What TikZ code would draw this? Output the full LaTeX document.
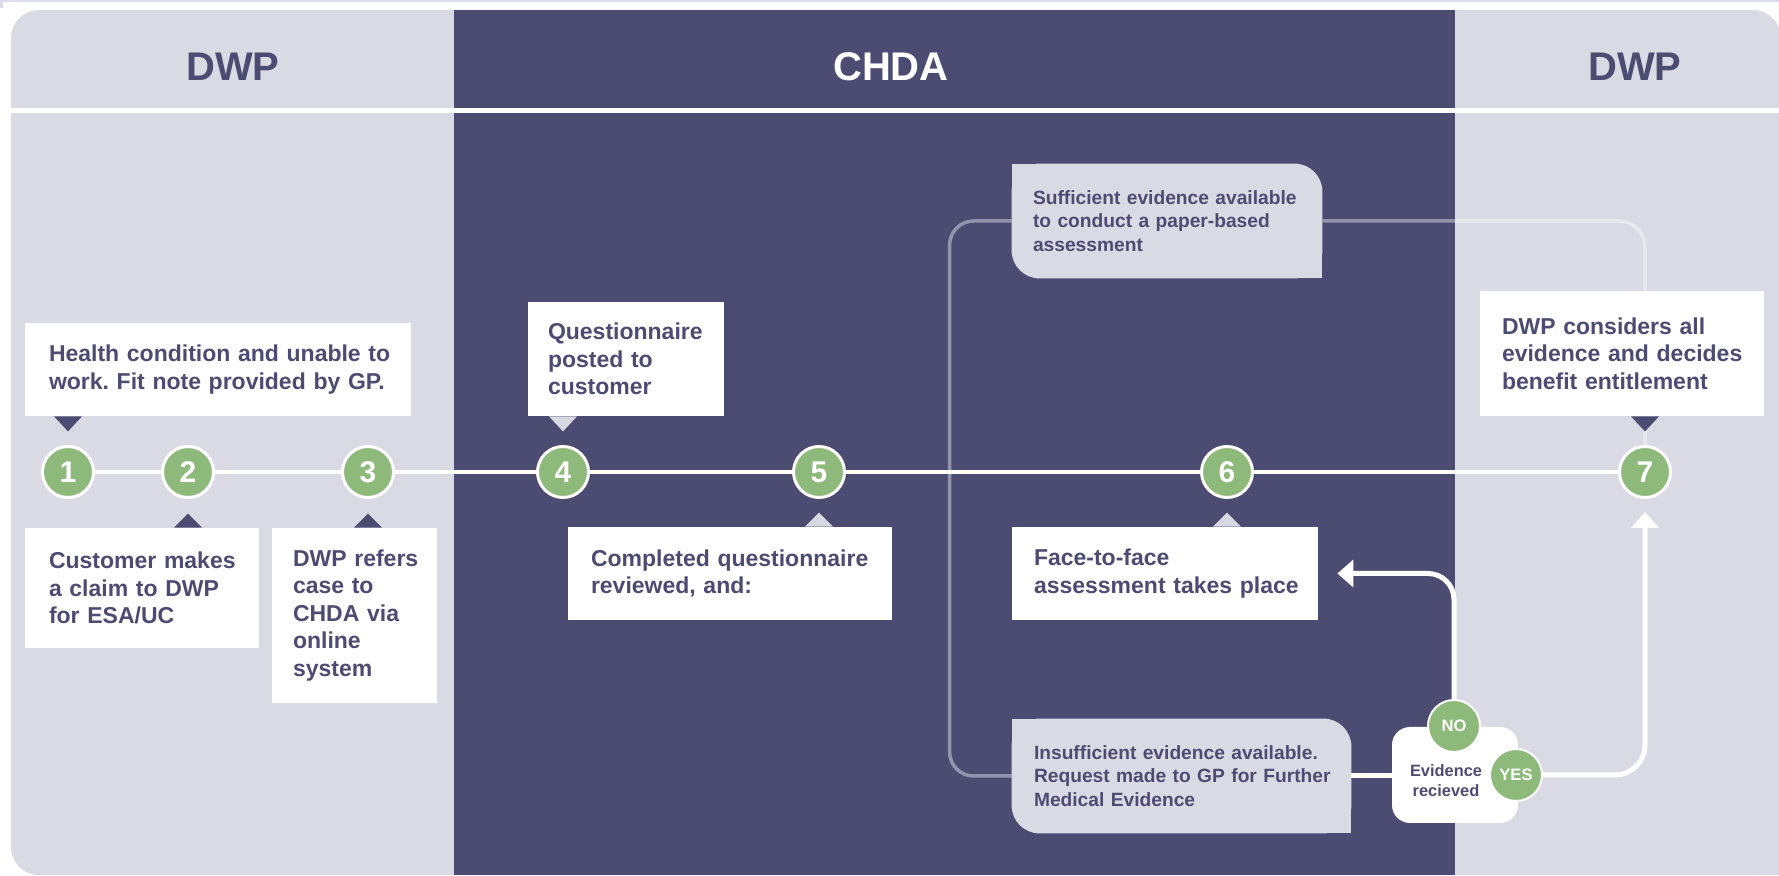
\documentclass[tikz,border=0pt]{standalone}
\usepackage{fontspec}
\setmainfont{Liberation Sans}
\usetikzlibrary{arrows.meta,calc}
\pgfdeclarelayer{lanes}
\pgfdeclarelayer{links}
\pgfsetlayers{lanes,links,main}
\definecolor{lane}{HTML}{DADAE4}
\definecolor{navy}{HTML}{4C4C73}
\definecolor{leaf}{HTML}{8DB97A}
\definecolor{strip}{HTML}{DCDCF0}
\definecolor{tri}{HTML}{D8D8E2}
\newcommand\keepline[1]{\mbox{#1}}
\frenchspacing
\begin{document}
\begin{tikzpicture}[x=0.5pt,y=-0.5pt,
  wbox/.style={fill=white, inner ysep=0pt, align=left, text=navy, anchor=center,
    font=\bfseries\fontsize{11.5}{13.75}\selectfont},
  gbox/.style={inner ysep=0pt, align=left, text=navy, anchor=center,
    font=\bfseries\fontsize{9.6}{11.75}\selectfont},
  stepnum/.style={circle, fill=leaf, draw=white, line width=1.5pt, minimum size=25.5pt,
    inner sep=0pt, text=white, font=\bfseries\fontsize{15}{15}\selectfont},
  yn/.style={circle, fill=leaf, draw=white, line width=1pt, minimum size=26pt,
    inner sep=0pt, text=white, font=\bfseries\fontsize{8.3}{9}\selectfont},
  lanehead/.style={font=\bfseries\fontsize{20}{20}\selectfont, inner sep=0pt},
  conn/.style={draw=white, draw opacity=0.4, line width=1.75pt},
  wline/.style={draw=white, line width=2.5pt},
  arrowend/.style={-{Triangle[width=13.5pt,length=8pt]}}
]
\useasboundingbox (0,0) rectangle (1779,876);

% lanes and panel
\begin{pgfonlayer}{lanes}
  \fill[white] (0,0) rectangle (1779,876);
  \fill[strip] (0,0) rectangle (1779,2.5);
  \fill[strip] (0,0) rectangle (3,8);
  \fill[lane, rounded corners=14pt] (11,10) rectangle (1781,875);
  \fill[lane] (1700,800) rectangle (1781,875);
  \fill[navy] (454,10) rectangle (1455,875);
  \fill[white] (11,108) rectangle (1781,113);
\end{pgfonlayer}

% headers
\node[lanehead, text=navy] (h1) at (233,66.5) {DWP};
\node[lanehead, text=white] (h2) at (891,66.5) {CHDA};
\node[lanehead, text=navy] (h3) at (1635,66.5) {DWP};

% step circles
\node[stepnum] (c1) at (68,472) {1};
\node[stepnum] (c2) at (188,472) {2};
\node[stepnum] (c3) at (368,472) {3};
\node[stepnum] (c4) at (563,472) {4};
\node[stepnum] (c5) at (819,472) {5};
\node[stepnum] (c6) at (1227,472) {6};
\node[stepnum] (c7) at (1645,472) {7};

% boxes
\node[wbox, text width=169pt, inner xsep=12pt, minimum height=46.5pt] (A) at (218,369.5)
  {\keepline{Health condition and unable to}\\\keepline{work. Fit note provided by GP.}};
\node[wbox, text width=93pt, inner xsep=12pt, minimum height=60pt] (B) at (142,588)
  {\keepline{Customer makes}\\\keepline{a claim to DWP}\\\keepline{for ESA/UC}};
\node[wbox, text width=61.5pt, inner xsep=10.5pt, minimum height=87.5pt] (C) at (354.5,615.5)
  {\keepline{DWP refers}\\\keepline{case to}\\\keepline{CHDA via}\\\keepline{online}\\\keepline{system}};
\node[wbox, text width=78pt, inner xsep=10pt, minimum height=57pt] (D) at (626,359)
  {\keepline{Questionnaire}\\\keepline{posted to}\\\keepline{customer}};
\node[wbox, text width=139pt, inner xsep=11.5pt, minimum height=46.5pt] (E) at (730,573.5)
  {\keepline{Completed questionnaire}\\\keepline{reviewed, and:}};
\node[wbox, text width=131pt, inner xsep=11pt, minimum height=46.5pt] (F) at (1165,573.5)
  {\keepline{Face-to-face}\\\keepline{assessment takes place}};
\node[gbox, text width=134pt, inner xsep=10.5pt, minimum height=57pt] (G) at (1167,221)
  {\keepline{Sufficient evidence available}\\\keepline{to conduct a paper-based}\\\keepline{assessment}};
\node[gbox, text width=147.5pt, inner xsep=11pt, minimum height=57pt] (H) at (1181.5,776)
  {\keepline{Insufficient evidence available.}\\\keepline{Request made to GP for Further}\\\keepline{Medical Evidence}};
\node[wbox, text width=120pt, inner xsep=11pt, minimum height=62.5pt] (I) at (1622,353.5)
  {\keepline{DWP considers all}\\\keepline{evidence and decides}\\\keepline{benefit entitlement}};

% decision
\node[fill=white, rounded corners=9pt, minimum width=63pt, minimum height=48pt, inner sep=0pt] (ev) at (1455,775) {};
\node[text=navy, font=\bfseries\fontsize{8.2}{10}\selectfont, align=center, inner sep=0pt] (evt) at (1446,781) {Evidence\\recieved};
\node[yn] (no) at (1454,726) {NO};
\node[yn] (yes) at (1516,775) {YES};

\begin{pgfonlayer}{links}
  % timeline
  \draw[white, line width=1.75pt] (c1) -- (c7);
  % grey connectors
  \draw[conn, rounded corners=12pt] (G.west) -- ++(-62,0) |- (H.west);
  \draw[conn, rounded corners=13pt] (G.east) -| (c7.north);
  % grey box fills (rounded top-right and bottom-left)
  \fill[lane, rounded corners=14pt] (G.north west) rectangle (G.south east);
  \fill[lane] (G.north west) rectangle ++(30,30);
  \fill[lane] (G.south east) rectangle ++(-30,-30);
  \fill[lane, rounded corners=14pt] (H.north west) rectangle (H.south east);
  \fill[lane] (H.north west) rectangle ++(30,30);
  \fill[lane] (H.south east) rectangle ++(-30,-30);
  % pointers
  \fill[navy] ($(A.south -| c1)+(-14,0)$) -- ++(28,0) -- ++(-14,15) -- cycle;
  \fill[navy] ($(B.north -| c2)+(-14,0)$) -- ++(28,0) -- ++(-14,-14) -- cycle;
  \fill[navy] ($(C.north -| c3)+(-14,0)$) -- ++(28,0) -- ++(-14,-14) -- cycle;
  \fill[tri] ($(D.south -| c4)+(-14,0)$) -- ++(28,0) -- ++(-14,15) -- cycle;
  \fill[tri] ($(E.north -| c5)+(-14,0)$) -- ++(28,0) -- ++(-14,-14) -- cycle;
  \fill[tri] ($(F.north -| c6)+(-14,0)$) -- ++(28,0) -- ++(-14,-14) -- cycle;
  \fill[navy] ($(I.south -| c7)+(-14,0)$) -- ++(28,0) -- ++(-14,15) -- cycle;
  % white flow lines
  \draw[wline] (H.east) -- (H.east -| ev.west);
  \draw[wline, arrowend, rounded corners=15pt] (yes.east) -| ($(c7.south)+(0,13)$);
  \draw[wline, arrowend, rounded corners=13pt] (no.north) |- ($(F.east)+(19,0)$);
\end{pgfonlayer}
\end{tikzpicture}
\end{document}
